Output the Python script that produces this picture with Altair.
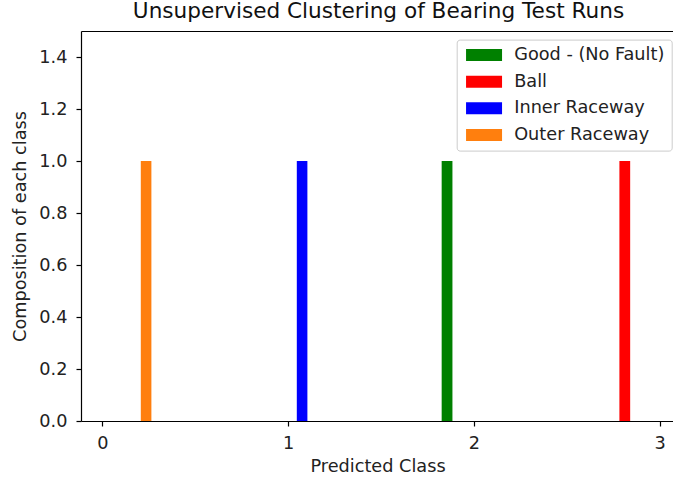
import altair as alt
import pandas as pd

# Data
classes = ["Good - (No Fault)", "Ball", "Inner Raceway", "Outer Raceway"]
colors = ["#008000", "#ff0000", "#0000ff", "#ff7f0e"]
bin_start = [1.827, 2.784, 1.047, 0.207]
bin_end = [1.885, 2.842, 1.104, 0.264]
composition = [1.0, 1.0, 1.0, 1.0]

df = pd.DataFrame({
    "cls": classes,
    "start": bin_start,
    "end": bin_end,
    "value": composition,
})

FONT = "DejaVu Sans"
BASE = 17.7
xscale = alt.Scale(domain=[-0.115, 3.078], nice=False, zero=False)

bars = alt.Chart(df).mark_bar().encode(
    x=alt.X(
        "start:Q",
        scale=xscale,
        axis=alt.Axis(values=[0, 1, 2, 3], format="d", title="Predicted Class",
                      tickSize=5, labelPadding=8, titlePadding=6),
    ),
    x2="end:Q",
    y=alt.Y(
        "value:Q",
        scale=alt.Scale(domain=[0, 1.5], nice=False),
        axis=alt.Axis(values=[0, 0.2, 0.4, 0.6, 0.8, 1.0, 1.2, 1.4], format=".1f",
                      title="Composition of each class",
                      tickSize=5, labelPadding=9, titlePadding=9),
    ),
    y2=alt.datum(0),
    color=alt.Color(
        "cls:N",
        scale=alt.Scale(domain=classes, range=colors),
        legend=alt.Legend(
            orient="none", legendX=375.7, legendY=8.6, title=None,
            symbolType="M-1,-1H5V1H-1Z", symbolSize=144, symbolStrokeWidth=0,
            symbolOpacity=1,
            labelFont=FONT, labelFontSize=BASE, labelColor="#222222",
            labelOffset=33.3, rowPadding=7.7, padding=6.5,
            fillColor="white", strokeColor="#cccccc", cornerRadius=3,
        ),
    ),
)

# invisible layer that only carries the top spine (matplotlib-style frame)
top_spine = alt.Chart(df).mark_bar(opacity=0).encode(
    x=alt.X("start:Q", scale=xscale,
            axis=alt.Axis(orient="top", labels=False, ticks=False, title=None)),
)

chart = alt.layer(bars, top_spine).resolve_axis(x="independent").properties(
    width=593,
    height=390,
    background="white",
    title=alt.TitleParams(
        "Unsupervised Clustering of Bearing Test Runs",
        font=FONT, fontSize=21.6, fontWeight="normal", color="#111111",
        anchor="middle", offset=11, baseline="alphabetic", dx=1, dy=20,
    ),
    autosize=alt.AutoSizeParams(type="none"),
    padding={"left": 81, "top": 31, "right": -1, "bottom": 59},
).configure_view(
    stroke="transparent", strokeWidth=0,
).configure_axis(
    grid=False,
    domainColor="black", domainWidth=1.2,
    tickColor="black", tickWidth=1.2,
    labelFont=FONT, labelFontSize=BASE, labelColor="#222222",
    titleFont=FONT, titleFontSize=BASE, titleFontWeight="normal", titleColor="#222222",
)

chart.save("out.html", embed_options={"renderer": "svg", "actions": False})
